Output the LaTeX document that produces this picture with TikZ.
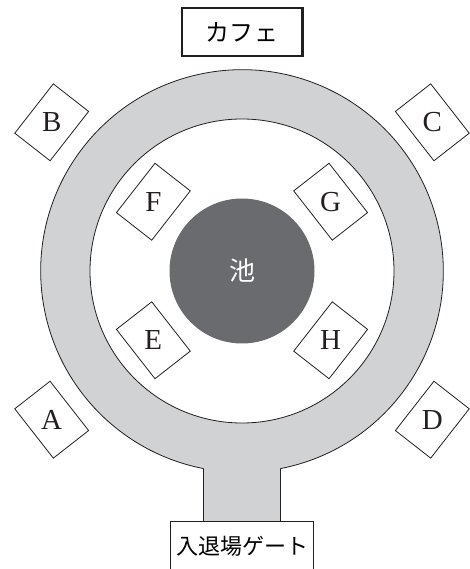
\documentclass[tikz,border=0pt]{standalone}
\usepackage{fontspec}
\setmainfont{Liberation Serif}
\newfontfamily\cjk{Noto Sans CJK JP}
\definecolor{ringgray}{HTML}{D1D2D4}
\definecolor{pondgray}{HTML}{6A6B6F}
\definecolor{inkline}{HTML}{231F20}

\begin{document}
\begin{tikzpicture}[x=1pt, y=1pt,
  lot/.style={draw=inkline, line width=0.8pt, minimum width=62.6pt, minimum height=44.8pt, inner sep=0pt},
  lotname/.style={text=inkline, inner sep=0pt, font=\fontsize{29}{29}\selectfont},
  pond/.style={circle, fill=pondgray, minimum size=145pt, inner sep=0pt, text=white, font=\cjk\fontsize{26}{26}\selectfont},
  sign/.style={draw=inkline, fill=white, align=center, inner sep=2pt},
  edge/.style={draw=inkline, line width=0.8pt}
]
\useasboundingbox (-242,271) rectangle (227,-298);

% walking ring and the path to the gate
\fill[ringgray, even odd rule] (0,0) circle (201.3pt) (0,0) circle (152pt);
\fill[ringgray] (-38.3,-190) rectangle (38.3,-251);

\node[sign, line width=0.9pt, minimum width=142.5pt, minimum height=60pt, anchor=north,
  text height=12pt, text depth=6pt, font=\cjk\fontsize{22}{22}\selectfont] (gate) at (0,-250) {入退場ゲート};
\node[sign, line width=2.7pt, minimum width=120.3pt, minimum height=48pt,
  font=\cjk\fontsize{24}{24}\selectfont] (cafe) at (0,239) {カ\kern1ptフ\kern1ptェ};

\coordinate (stemL) at (259.03:201.3);
\coordinate (stemR) at (-79.03:201.3);
\draw[edge] (stemR) arc[start angle=-79.03, end angle=259.03, radius=201.3pt];
\draw[edge] (0,0) circle (152pt);
\draw[edge] (stemL) -- (stemL |- gate.north);
\draw[edge] (stemR) -- (stemR |- gate.north);

\node[pond] (pond) at (0,0) {池};

% outer lots
\node[lot, rotate=128] (A) at (218:241.5) {};
\node[lot, rotate=52] (B) at (142:241.5) {};
\node[lot, rotate=-52] (C) at (38:241.5) {};
\node[lot, rotate=-128] (D) at (-38:241.5) {};
% inner lots
\node[lot, rotate=128] (E) at (218:112.5) {};
\node[lot, rotate=52] (F) at (142:112.5) {};
\node[lot, rotate=-52] (G) at (38:112.5) {};
\node[lot, rotate=-128] (H) at (-38:112.5) {};

\node[lotname] at (A) {A};
\node[lotname] at (B) {B};
\node[lotname] at (C) {C};
\node[lotname] at (D) {D};
\node[lotname] at (E) {E};
\node[lotname] at (F) {F};
\node[lotname] at (G) {G};
\node[lotname] at (H) {H};
\end{tikzpicture}
\end{document}
